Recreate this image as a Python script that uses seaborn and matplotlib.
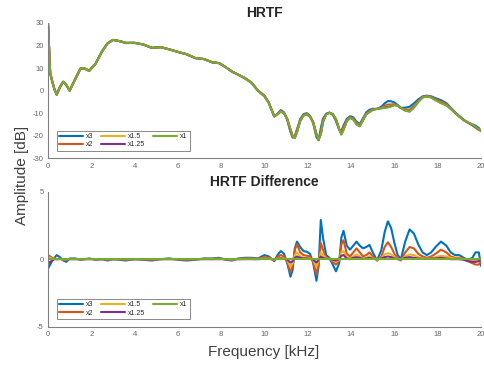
import matplotlib
matplotlib.use("Agg")
import matplotlib.pyplot as plt
import numpy as np
import seaborn as sns

# frequency grid [kHz]
freq = [0, 0.1, 0.2, 0.3, 0.4, 0.55, 0.7, 0.85, 1.0, 1.25, 1.5, 1.7, 1.9, 2.2, 2.5,
        2.75, 3.0, 3.3, 3.6, 4.0, 4.4, 4.8, 5.2, 5.6, 6.0, 6.4, 6.8, 7.2, 7.6, 7.9,
        8.2, 8.5, 8.8, 9.1, 9.4, 9.7, 10.0, 10.2, 10.45, 10.6, 10.75, 10.9, 11.05,
        11.2, 11.3, 11.4, 11.5, 11.65, 11.8, 11.95, 12.1, 12.25, 12.4, 12.5, 12.6,
        12.7, 12.85, 13.0, 13.15, 13.3, 13.45, 13.55, 13.65, 13.8, 13.95, 14.1,
        14.25, 14.4, 14.55, 14.7, 14.85, 15.0, 15.2, 15.4, 15.55, 15.7, 15.85, 16.0,
        16.15, 16.3, 16.5, 16.7, 16.9, 17.1, 17.3, 17.5, 17.7, 17.9, 18.15, 18.4,
        18.6, 18.8, 19.0, 19.2, 19.4, 19.6, 19.75, 19.9, 20.0]

# reference HRTF (x1) [dB]
hrtf_x1 = [30, 8, 4, 0.5, -1.8, 1.5, 4, 2.5, 0, 5, 9.8, 9.8, 8.8, 12, 17.5,
           21, 22.5, 22, 21.2, 21.2, 20.5, 19, 19.3, 18.3, 17.2, 16.2, 14.5, 14, 12.5, 12.2,
           10.5, 8.5, 7, 5.5, 3.5, 0, -2.5, -5.5, -11.3, -10.5, -9.2, -10, -12.5,
           -17, -20, -21, -18.5, -13.5, -11, -10.5, -11.5, -14, -19, -21.5, -19.5,
           -14, -10.5, -9.8, -10.3, -12.5, -17, -19.5, -17.5, -13.5, -12, -12.8,
           -15, -15.8, -13, -10.5, -9.5, -8.5, -8, -7.8, -7.6, -7.4, -7.0, -6.4,
           -6.6, -7.6, -8.8, -9.3, -7.5, -5, -3, -2.5, -3, -4.2, -5.5, -6.5,
           -8, -9.8, -11.5, -13, -14, -15, -16, -17, -17.5]

# differences to x1 [dB]
diff_x3 = [-0.7, -0.4, -0.1, 0.1, 0.3, 0.15, -0.1, -0.2, 0.05, 0.05, -0.05, 0, 0.05, -0.05, 0,
           -0.1, 0, -0.05, -0.1, 0, -0.05, -0.1, 0, 0.05, -0.05, -0.1, -0.05, 0.05, 0.05, 0.1,
           -0.05, -0.1, 0.05, 0.1, 0.1, 0.05, 0.3, 0.2, -0.15, 0.3, 0.6, 0.4, -0.3,
           -1.3, -0.8, 0.8, 1.3, 0.9, 0.6, 0.55, 0.4, -0.3, -1.6, -0.5, 2.9,
           1.6, 0.3, 0.1, -0.4, -0.9, -0.3, 1.6, 2.1, 1.0, 0.7, 1.0,
           1.3, 1.0, 0.8, 0.9, 1.05, 0.5, -0.1, 0.7, 2.0, 2.8, 2.3, 1.2,
           0.3, 0.0, 1.3, 2.2, 1.9, 1.1, 0.5, 0.3, 0.5, 0.9, 1.3, 1.0,
           0.5, 0.3, 0.3, 0.1, -0.05, 0.1, 0.5, 0.5, -0.5]
diff_x2 = [0.3, 0.2, 0.1, 0.05, 0, 0.05, -0.05, -0.05, 0.02, 0.02, 0, 0, 0.02, 0, 0,
           -0.05, 0, 0, -0.05, 0, 0, -0.05, 0, 0.02, 0, -0.05, 0, 0.02, 0.02, 0.05,
           0, -0.05, 0.02, 0.05, 0.05, 0.02, 0.15, 0.1, -0.1, 0.15, 0.3, 0.2, -0.2,
           -1.0, -0.5, 0.7, 1.1, 0.5, 0.3, 0.25, 0.2, -0.2, -1.15, -0.3, 1.2,
           0.7, 0.1, 0.05, -0.2, -0.4, -0.1, 1.1, 1.4, 0.4, 0.2, 0.5,
           0.8, 0.5, 0.2, 0.3, 0.5, 0.2, -0.1, 0.2, 0.9, 1.25, 0.9, 0.4,
           0.05, -0.1, 0.5, 0.9, 0.8, 0.4, 0.2, 0.1, 0.2, 0.4, 0.7, 0.5,
           0.2, 0.1, 0.1, 0.05, -0.15, -0.3, -0.4, -0.4, -0.2]
diff_x15 = [0.15, 0.1, 0.05, 0.02, 0, 0.02, -0.02, -0.02, 0, 0, 0, 0, 0, 0, 0,
            0, 0, 0, 0, 0, 0, 0, 0, 0, 0, 0, 0, 0, 0, 0.02,
            0, -0.02, 0, 0.02, 0.02, 0, 0.05, 0.05, -0.05, 0.05, 0.1, 0.05, -0.1,
            -0.55, -0.3, 0.3, 0.5, 0.2, 0.1, 0.1, 0.05, -0.1, -0.55, -0.15, 0.5,
            0.3, 0.05, 0, -0.1, -0.2, -0.05, 0.5, 0.6, 0.15, 0.05, 0.2,
            0.35, 0.2, 0.05, 0.1, 0.2, 0.05, -0.05, 0.1, 0.35, 0.45, 0.35, 0.15,
            0, -0.05, 0.2, 0.35, 0.3, 0.15, 0.05, 0.05, 0.1, 0.15, 0.25, 0.2,
            0.1, 0.05, 0.05, 0, -0.05, -0.1, -0.15, -0.15, -0.1]
diff_x125 = [-0.35, -0.2, -0.1, 0, 0, 0, 0, 0, 0, 0, 0, 0, 0, 0, 0,
             0, 0, 0, 0, 0, 0, 0, 0, 0, 0, 0, 0, 0, 0, 0,
             0, 0, 0, 0, 0, 0, 0.02, 0.02, -0.02, 0.02, 0.05, 0.02, -0.05,
             -0.25, -0.15, 0.1, 0.2, 0.1, 0.05, 0.05, 0.02, -0.05, -0.25, -0.05, 0.2,
             0.1, 0.02, 0, -0.05, -0.1, 0, 0.25, 0.3, 0.05, 0, 0.1,
             0.15, 0.1, 0.02, 0.05, 0.1, 0.02, 0, 0.05, 0.15, 0.2, 0.15, 0.05,
             0, -0.02, 0.1, 0.15, 0.1, 0.05, 0.02, 0.02, 0.05, 0.05, 0.1, 0.05,
             0, 0, 0, -0.05, -0.15, -0.2, -0.2, -0.15, -0.05]

labels = ["x3", "x2", "x1.5", "x1.25", "x1"]
colors = ["#0072BD", "#D95319", "#EDB120", "#7E2F8E", "#77AC30"]

sns.set_style("white")
plt.rcParams["font.family"] = ["Liberation Sans", "DejaVu Sans"]
plt.rcParams["axes.unicode_minus"] = False

freq = np.array(freq)
base = np.array(hrtf_x1)
diffs = [np.array(diff_x3), np.array(diff_x2), np.array(diff_x15),
         np.array(diff_x125), np.zeros_like(base)]

fig = plt.figure(figsize=(4.84, 3.65), dpi=100)
ax1 = fig.add_axes([0.0992, 0.566, 0.8946, 0.371])
ax2 = fig.add_axes([0.0992, 0.105, 0.8946, 0.370])

for d, lab, col in zip(diffs, labels, colors):
    sns.lineplot(x=freq, y=base + d, ax=ax1, color=col, lw=1.5, label=lab,
                 solid_joinstyle="round")
    sns.lineplot(x=freq, y=d, ax=ax2, color=col, lw=1.5, label=lab,
                 solid_joinstyle="round")

grey = "#666666"
for ax, ylim, yt, title in [(ax1, (-30, 30), range(-30, 31, 10), "HRTF"),
                            (ax2, (-5, 5), [-5, 0, 5], "HRTF Difference")]:
    ax.set_xlim(0, 20)
    ax.set_ylim(*ylim)
    ax.set_xticks(range(0, 21, 2))
    ax.set_yticks(list(yt))
    ax.tick_params(direction="in", length=2.5, width=0.6, labelsize=5.5,
                   colors=grey, pad=3)
    for s in ["top", "right"]:
        ax.spines[s].set_visible(False)
    for s in ["left", "bottom"]:
        ax.spines[s].set_color("#808080")
        ax.spines[s].set_linewidth(0.8)
    ax.set_title(title, fontsize=10, fontweight="bold", pad=4)
    leg = ax.legend(loc="lower left", ncol=3, fontsize=5, handlelength=3.4,
                    columnspacing=1.2, handletextpad=0.4, labelspacing=0.2,
                    borderpad=0.35, frameon=True, fancybox=False,
                    bbox_to_anchor=(0.012, 0.03))
    leg.get_frame().set_edgecolor("#555555")
    leg.get_frame().set_linewidth(0.6)

fig.text(0.045, 0.52, "Amplitude [dB]", rotation=90, ha="center", va="center",
         fontsize=11, color="#404040")
fig.text(0.545, 0.035, "Frequency [kHz]", ha="center", va="center",
         fontsize=11, color="#404040")

fig.savefig("out.png", dpi=100)
